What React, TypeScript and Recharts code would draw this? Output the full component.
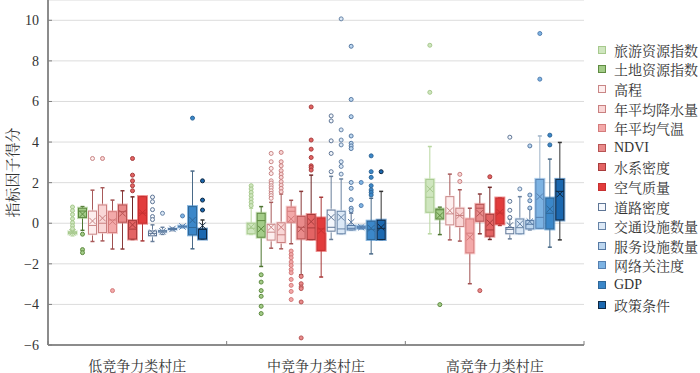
import { BarChart, Bar, XAxis, YAxis, CartesianGrid } from 'recharts'

const categories = ['低竞争力类村庄', '中竞争力类村庄', '高竞争力类村庄']

const seriesNames = [
  '旅游资源指数', '土地资源指数', '高程', '年平均降水量', '年平均气温', 'NDVI', '水系密度',
  '空气质量', '道路密度', '交通设施数量', '服务设施数量', '网络关注度', 'GDP', '政策条件',
]

const fillColors = [
  '#cfe6bf', '#a3cc88', '#fdeeee', '#f9d6d6', '#f3a9a9', '#e98b8b', '#e36464',
  '#e23c3c', '#f4f7fc', '#dbe8f6', '#bcd6ef', '#7db3e3', '#3b87c9', '#1b68b0',
]
const strokeColors = [
  '#a7c98d', '#5f8b41', '#c98686', '#c98080', '#d47c7c', '#b85454', '#a83c3c',
  '#c63030', '#5e7595', '#6683a6', '#5679a3', '#5680b0', '#2f6798', '#0f2842',
]
const whiskerColors = [
  '#b8d7a0', '#4d7530', '#a85a5a', '#a85a5a', '#a05050', '#8a3a3a', '#702828',
  '#a83838', '#6a7f9a', '#6a82a0', '#5a7090', '#9fb4c8', '#4a6a88', '#333333',
]

const yTicks = [-6, -4, -2, 0, 2, 4, 6, 8, 10]

// [min, q1, median, q3, max, mean] per series
const lowStats = [
  [-0.62, -0.52, -0.47, -0.42, -0.3, -0.45],
  [-0.35, 0.28, 0.6, 0.74, 0.82, 0.45],
  [-0.9, -0.54, -0.11, 0.6, 1.63, 0.11],
  [-0.87, -0.46, 0, 0.9, 1.75, 0.25],
  [-1.27, -0.46, 0.16, 0.57, 1.14, 0.08],
  [-1.27, 0.05, 0.57, 0.9, 1.6, 0.49],
  [-0.8, -0.78, -0.29, 0.13, 1.3, -0.08],
  [-0.87, 0, 0.5, 1.31, 1.31, 0.52],
  [-0.9, -0.62, -0.5, -0.38, -0.08, -0.47],
  [-0.55, -0.44, -0.4, -0.36, -0.2, -0.4],
  [-0.36, -0.31, -0.28, -0.26, -0.22, -0.28],
  [-0.22, -0.18, -0.16, -0.14, -0.1, -0.16],
  [-1.26, -0.57, -0.21, 0.82, 2.57, 0.15],
  [-0.78, -0.78, -0.3, -0.29, 0.16, -0.12],
]
const midStats = [
  [-0.55, -0.52, -0.25, 0, 0.74, -0.18],
  [-2.13, -0.69, 0.13, 0.49, 0.82, -0.28],
  [-1.23, -0.83, -0.44, -0.05, 1.03, -0.2],
  [-1.26, -0.95, -0.57, 0.02, 1.44, -0.2],
  [-1.01, 0.05, 0.59, 0.79, 1.13, 0.21],
  [-2.54, -0.77, -0.2, 0.34, 1.57, -0.28],
  [-0.8, -0.8, -0.23, 0.43, 2.37, 0.08],
  [-2.65, -1.34, -0.28, 0.26, 1.28, -0.36],
  [-0.8, -0.39, -0.2, 0.65, 2.31, 0.29],
  [-0.52, -0.52, -0.28, 0.59, 2.18, 0.29],
  [-0.33, -0.33, -0.25, -0.11, 0.5, 0.05],
  [-0.3, -0.25, -0.2, -0.15, -0.1, -0.2],
  [-1.51, -0.8, -0.3, 0.1, 1.23, -0.25],
  [-0.8, -0.8, -0.25, 0.15, 1.57, -0.2],
]
const highStats = [
  [-0.52, 0.54, 1.28, 2.16, 3.78, 1.69],
  [-0.56, 0.21, 0.66, 0.7, 0.79, 0.38],
  [-0.82, -0.08, 0.46, 1.31, 2.42, 0.62],
  [-0.88, -0.16, 0.38, 0.74, 1.65, 0.38],
  [-2.98, -1.46, -0.49, 0.21, 0.74, -0.69],
  [-0.52, 0.1, 0.74, 0.93, 1.44, 0.49],
  [-0.8, -0.64, -0.33, 0.44, 1.77, 0.02],
  [-0.11, -0.03, 0.5, 1.24, 1.24, 0.54],
  [-0.77, -0.52, -0.3, -0.21, 0.21, -0.11],
  [-0.52, -0.52, -0.22, 0.21, 1.31, -0.03],
  [-0.33, -0.28, -0.05, 0.13, 0.7, 0.08],
  [-0.25, -0.25, 0.29, 2.16, 4.3, 1.31],
  [-1.18, -0.28, 0.49, 1.24, 3.16, 0.7],
  [-0.82, 0.16, 1.57, 2.16, 3.98, 1.44],
]

const lowOutliers = [
  [0.8, 0.62, 0.43, 0.22, 0.03, -0.12, -0.27],
  [-0.54, -1.3, -1.45],
  [3.19],
  [3.19],
  [-3.32],
  [],
  [3.19, 2.37, 2.09, 1.85, 1.6],
  [],
  [1.29, 1.06, 0.67, 0.33, 0.18],
  [0.49],
  [],
  [0.36],
  [5.18],
  [2.09, 1.14, 0.65],
]
const midOutliers = [
  [1.85, 1.69, 1.52, 1.36, 1.19, 1.03, 0.87],
  [-2.54, -2.9, -3.32, -3.6, -4.09, -4.45],
  [3.44, 3.03, 2.7, 2.45, 2.09, 1.98, 1.85, 1.74, 1.6, 1.47, 1.36, 1.23],
  [3.49, 3.03, 2.83, 2.59, 2.42, 2.26, 2.05, 1.88, 1.72, 1.55],
  [-1.37, -1.54, -1.7, -1.91, -2.08, -2.28, -2.44, -2.77, -3.06, -3.36, -3.76],
  [-2.62, -2.98, -3.14, -3.22, -3.88, -5.65],
  [5.73, 4.1, 3.65, 3.24, 2.83, 2.75, 2.62],
  [],
  [5.29, 5.04, 4.06, 3.44, 2.54],
  [10.07, 4.6, 4.1, 3.86, 3.03, 2.8, 2.42],
  [8.72, 6.1, 5.25, 4.3, 3.94, 3.81, 3.68, 2.01, 1.72, 1.16, 0.74, 0.62],
  [2.01, 0.87],
  [3.32, 2.54, 2.26, 1.85, 1.64, 1.52, 1.39],
  [2.54],
]
const highOutliers = [
  [8.77, 6.45],
  [-4.01],
  [],
  [2.41, 2.06],
  [],
  [-3.32],
  [2.29],
  [],
  [4.24, 1.08, 0.64, 0.29],
  [1.69],
  [3.81, 1.39, 1.11, 0.75],
  [9.35, 7.1],
  [4.34, 3.86],
  [],
]

const allStats = [lowStats, midStats, highStats]
const allOutliers = [lowOutliers, midOutliers, highOutliers]

const rows = categories.map((name, ci) => {
  const row: any = { name, stats: allStats[ci], outs: allOutliers[ci] }
  seriesNames.forEach((_, si) => {
    const vals = [...allStats[ci][si], ...allOutliers[ci][si]]
    row[`s${si}`] = [Math.min(...vals), Math.max(...vals)]
  })
  return row
})

const FONT = "'Liberation Serif', 'Noto Serif CJK SC', 'Noto Sans CJK SC', serif"

const BoxShape = (props: any) => {
  const { x, y, width, height, payload, si } = props
  const [min, q1, med, q3, max, mean] = payload.stats[si]
  const [lo, hi] = payload[`s${si}`]
  const k = height / (hi - lo)
  const py = (v: number) => y + (hi - v) * k
  const cx = x + width / 2
  const fill = fillColors[si]
  const stroke = strokeColors[si]
  const wc = whiskerColors[si]
  const bx = x + 0.5
  const bw = width - 1
  const top = py(q3)
  const bh = Math.max(py(q1) - top, 1)
  const my = py(mean)
  const xs = 3.2
  return (
    <g>
      <line x1={cx} x2={cx} y1={py(max)} y2={top} stroke={wc} strokeWidth={1} />
      <line x1={cx} x2={cx} y1={py(q1)} y2={py(min)} stroke={wc} strokeWidth={1} />
      <line x1={cx - 2} x2={cx + 2} y1={py(max)} y2={py(max)} stroke={wc} strokeWidth={1.5} />
      <line x1={cx - 2} x2={cx + 2} y1={py(min)} y2={py(min)} stroke={wc} strokeWidth={1.5} />
      <rect x={bx} y={top} width={bw} height={bh} fill="none" stroke={fill} strokeOpacity={0.6} strokeWidth={3} />
      <rect x={bx} y={top} width={bw} height={bh} fill={fill} stroke={stroke} strokeWidth={1} />
      <line x1={bx} x2={bx + bw} y1={py(med)} y2={py(med)} stroke={stroke} strokeWidth={1} />
      <path
        d={`M${cx - xs},${my - xs}L${cx + xs},${my + xs}M${cx - xs},${my + xs}L${cx + xs},${my - xs}`}
        stroke={stroke}
        strokeWidth={1}
        fill="none"
      />
      {payload.outs[si].map((v: number, i: number) => (
        <circle key={i} cx={cx} cy={py(v)} r={2} fill={fill} stroke={stroke} strokeWidth={1} />
      ))}
    </g>
  )
}

const XTick = (props: any) => {
  const { x, y, payload, index } = props
  const half = payload.offset || 0
  return (
    <g>
      <line x1={x - half} x2={x - half} y1={y} y2={y - 4} stroke="#7f7f7f" strokeWidth={1} />
      {index === categories.length - 1 && (
        <line x1={x + half} x2={x + half} y1={y} y2={y - 4} stroke="#7f7f7f" strokeWidth={1} />
      )}
      <text x={x} y={y + 26} textAnchor="middle" fontSize={14} fill="#333" fontFamily={FONT}>
        {payload.value}
      </text>
    </g>
  )
}

const YTick = (props: any) => {
  const { x, y, payload } = props
  return (
    <g>
      <line x1={x + 9} x2={x + 13} y1={y} y2={y} stroke="#7f7f7f" strokeWidth={1} />
      <text x={x} y={y + 5} textAnchor="end" fontSize={14} fill="#333" fontFamily={FONT}>
        {payload.value < 0 ? `\u2212${Math.abs(payload.value)}` : payload.value}
      </text>
    </g>
  )
}

export default function App() {
  return (
    <div style={{ position: 'relative', width: 700, height: 373, fontFamily: FONT }}>
      <style>{'body{margin:0}'}</style>
      <BarChart
        width={700}
        height={373}
        data={rows}
        margin={{ top: 0, right: 116, bottom: 0, left: 0 }}
        barSize={9}
        barGap={1}
      >
        <CartesianGrid vertical={false} stroke="#dcdcdc" strokeWidth={1} />
        <XAxis
          dataKey="name"
          height={28}
          tickLine={false}
          tickSize={0}
          tickMargin={0}
          axisLine={{ stroke: '#8c8c8c', strokeWidth: 2 }}
          tick={<XTick />}
          interval={0}
        />
        <YAxis
          width={48}
          domain={[-6, 11]}
          ticks={yTicks}
          tickLine={false}
          tickSize={0}
          tickMargin={9}
          axisLine={{ stroke: '#8c8c8c', strokeWidth: 2 }}
          tick={<YTick />}
          allowDataOverflow
          label={{
            value: '指标因子得分',
            angle: -90,
            position: 'insideLeft',
            offset: 13,
            style: { fontSize: 15, fill: '#333', fontFamily: FONT, textAnchor: 'middle' },
          }}
        />
        {seriesNames.map((n, si) => (
          <Bar
            key={n}
            dataKey={`s${si}`}
            name={n}
            isAnimationActive={false}
            shape={(p: any) => <BoxShape {...p} si={si} />}
          />
        ))}
      </BarChart>
      <div style={{ position: 'absolute', left: 598, top: 40 }}>
        {seriesNames.map((n, si) => (
          <div key={n} style={{ display: 'flex', alignItems: 'center', height: 19.6 }}>
            <span
              style={{
                width: 6,
                height: 6,
                background: fillColors[si],
                border: `1px solid ${strokeColors[si]}`,
                marginRight: 8,
                flexShrink: 0,
              }}
            />
            <span style={{ fontSize: 14, color: '#333', whiteSpace: 'nowrap' }}>{n}</span>
          </div>
        ))}
      </div>
    </div>
  )
}
